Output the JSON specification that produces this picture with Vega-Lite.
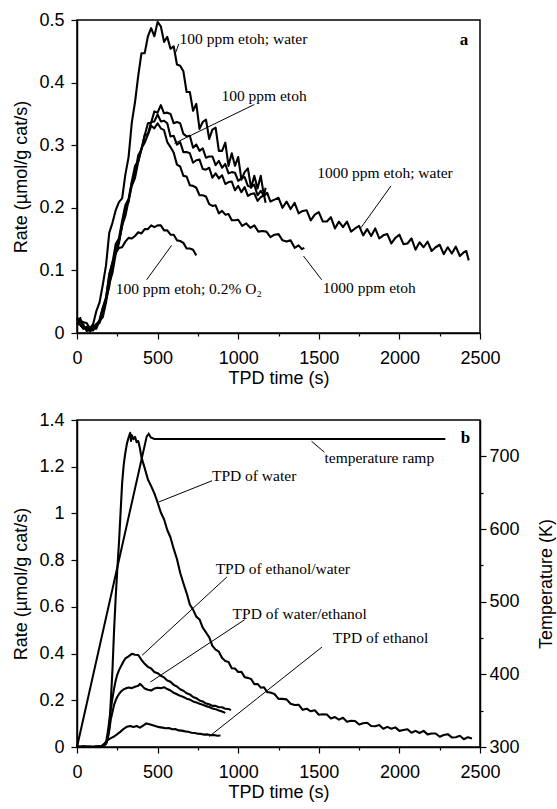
{
  "$schema": "https://vega.github.io/schema/vega-lite/v6.json",
  "padding": {"left": 12, "top": 10, "right": 2, "bottom": 2},
  "background": "white",
  "spacing": 22,
  "config": {
    "view": {"stroke": "black", "strokeWidth": 1.5},
    "axis": {
      "domainColor": "black", "domainWidth": 1.5, "tickColor": "black", "tickWidth": 1.2,
      "labelColor": "black", "titleColor": "black", "labelFont": "Liberation Sans", "titleFont": "Liberation Sans",
      "labelFontSize": 18, "titleFontSize": 18, "titleFontWeight": "normal", "grid": false,
      "labelOverlap": false, "labelFlush": false
    },
    "text": {"font": "Liberation Serif", "fontSize": 15.5, "color": "black"}
  },
  "datasets": {
    "topLines": [
      {"c":"A","t":0,"r":0.024},{"c":"A","t":20,"r":0.020},{"c":"A","t":40,"r":0.017},{"c":"A","t":60,"r":0.016},{"c":"A","t":80,"r":0.007},{"c":"A","t":100,"r":0.014},{"c":"A","t":120,"r":0.035},{"c":"A","t":140,"r":0.049},{"c":"A","t":160,"r":0.077},{"c":"A","t":180,"r":0.108},{"c":"A","t":200,"r":0.16},{"c":"A","t":220,"r":0.176},{"c":"A","t":240,"r":0.196},{"c":"A","t":260,"r":0.209},{"c":"A","t":280,"r":0.215},{"c":"A","t":300,"r":0.253},{"c":"A","t":320,"r":0.281},{"c":"A","t":340,"r":0.336},{"c":"A","t":360,"r":0.369},{"c":"A","t":380,"r":0.411},{"c":"A","t":400,"r":0.447},{"c":"A","t":420,"r":0.447},{"c":"A","t":440,"r":0.474},{"c":"A","t":460,"r":0.487},{"c":"A","t":480,"r":0.474},{"c":"A","t":500,"r":0.497},{"c":"A","t":520,"r":0.49},{"c":"A","t":540,"r":0.465},{"c":"A","t":560,"r":0.473},{"c":"A","t":580,"r":0.454},{"c":"A","t":600,"r":0.458},{"c":"A","t":620,"r":0.429},{"c":"A","t":640,"r":0.427},{"c":"A","t":660,"r":0.418},{"c":"A","t":680,"r":0.385},{"c":"A","t":700,"r":0.385},{"c":"A","t":720,"r":0.355},{"c":"A","t":740,"r":0.366},{"c":"A","t":760,"r":0.326},{"c":"A","t":780,"r":0.337},{"c":"A","t":800,"r":0.341},{"c":"A","t":820,"r":0.31},{"c":"A","t":840,"r":0.325},{"c":"A","t":860,"r":0.328},{"c":"A","t":880,"r":0.291},{"c":"A","t":900,"r":0.291},{"c":"A","t":920,"r":0.304},{"c":"A","t":940,"r":0.267},{"c":"A","t":960,"r":0.287},{"c":"A","t":980,"r":0.267},{"c":"A","t":1000,"r":0.281},{"c":"A","t":1020,"r":0.245},{"c":"A","t":1040,"r":0.257},{"c":"A","t":1060,"r":0.263},{"c":"A","t":1080,"r":0.232},{"c":"A","t":1100,"r":0.251},{"c":"A","t":1120,"r":0.231},{"c":"A","t":1140,"r":0.251},{"c":"A","t":1160,"r":0.219},{"c":"A","t":1170,"r":0.232},
      {"c":"B","t":0,"r":0.014},{"c":"B","t":20,"r":0.024},{"c":"B","t":40,"r":0.007},{"c":"B","t":60,"r":0.010},{"c":"B","t":80,"r":0.005},{"c":"B","t":100,"r":0.013},{"c":"B","t":120,"r":0.009},{"c":"B","t":140,"r":0.021},{"c":"B","t":160,"r":0.040},{"c":"B","t":180,"r":0.054},{"c":"B","t":200,"r":0.094},{"c":"B","t":220,"r":0.112},{"c":"B","t":240,"r":0.142},{"c":"B","t":260,"r":0.151},{"c":"B","t":280,"r":0.179},{"c":"B","t":300,"r":0.204},{"c":"B","t":320,"r":0.214},{"c":"B","t":340,"r":0.242},{"c":"B","t":360,"r":0.267},{"c":"B","t":380,"r":0.274},{"c":"B","t":400,"r":0.294},{"c":"B","t":420,"r":0.316},{"c":"B","t":440,"r":0.318},{"c":"B","t":460,"r":0.337},{"c":"B","t":480,"r":0.338},{"c":"B","t":500,"r":0.349},{"c":"B","t":520,"r":0.338},{"c":"B","t":540,"r":0.339},{"c":"B","t":560,"r":0.335},{"c":"B","t":580,"r":0.314},{"c":"B","t":600,"r":0.315},{"c":"B","t":620,"r":0.301},{"c":"B","t":640,"r":0.305},{"c":"B","t":660,"r":0.289},{"c":"B","t":680,"r":0.289},{"c":"B","t":700,"r":0.287},{"c":"B","t":720,"r":0.272},{"c":"B","t":740,"r":0.276},{"c":"B","t":760,"r":0.277},{"c":"B","t":780,"r":0.262},{"c":"B","t":800,"r":0.261},{"c":"B","t":820,"r":0.264},{"c":"B","t":840,"r":0.248},{"c":"B","t":860,"r":0.255},{"c":"B","t":880,"r":0.247},{"c":"B","t":900,"r":0.252},{"c":"B","t":920,"r":0.238},{"c":"B","t":940,"r":0.241},{"c":"B","t":960,"r":0.242},{"c":"B","t":980,"r":0.228},{"c":"B","t":1000,"r":0.235},{"c":"B","t":1020,"r":0.225},{"c":"B","t":1040,"r":0.233},{"c":"B","t":1060,"r":0.219},{"c":"B","t":1080,"r":0.222},{"c":"B","t":1100,"r":0.223},{"c":"B","t":1120,"r":0.211},{"c":"B","t":1140,"r":0.217},{"c":"B","t":1160,"r":0.22},{"c":"B","t":1170,"r":0.208},
      {"c":"C","t":0,"r":0.022},{"c":"C","t":20,"r":0.018},{"c":"C","t":40,"r":0.013},{"c":"C","t":60,"r":0.003},{"c":"C","t":80,"r":0.007},{"c":"C","t":100,"r":0.004},{"c":"C","t":120,"r":0.014},{"c":"C","t":140,"r":0.016},{"c":"C","t":160,"r":0.031},{"c":"C","t":180,"r":0.054},{"c":"C","t":200,"r":0.074},{"c":"C","t":220,"r":0.107},{"c":"C","t":240,"r":0.135},{"c":"C","t":260,"r":0.147},{"c":"C","t":280,"r":0.171},{"c":"C","t":300,"r":0.201},{"c":"C","t":320,"r":0.209},{"c":"C","t":340,"r":0.24},{"c":"C","t":360,"r":0.256},{"c":"C","t":380,"r":0.284},{"c":"C","t":400,"r":0.293},{"c":"C","t":420,"r":0.316},{"c":"C","t":440,"r":0.335},{"c":"C","t":460,"r":0.336},{"c":"C","t":480,"r":0.354},{"c":"C","t":500,"r":0.352},{"c":"C","t":520,"r":0.364},{"c":"C","t":540,"r":0.351},{"c":"C","t":560,"r":0.352},{"c":"C","t":580,"r":0.35},{"c":"C","t":600,"r":0.335},{"c":"C","t":620,"r":0.337},{"c":"C","t":640,"r":0.335},{"c":"C","t":660,"r":0.318},{"c":"C","t":680,"r":0.314},{"c":"C","t":700,"r":0.315},{"c":"C","t":720,"r":0.296},{"c":"C","t":740,"r":0.301},{"c":"C","t":760,"r":0.291},{"c":"C","t":780,"r":0.295},{"c":"C","t":800,"r":0.28},{"c":"C","t":820,"r":0.282},{"c":"C","t":840,"r":0.282},{"c":"C","t":860,"r":0.268},{"c":"C","t":880,"r":0.275},{"c":"C","t":900,"r":0.264},{"c":"C","t":920,"r":0.27},{"c":"C","t":940,"r":0.255},{"c":"C","t":960,"r":0.257},{"c":"C","t":980,"r":0.256},{"c":"C","t":1000,"r":0.243},{"c":"C","t":1020,"r":0.247},{"c":"C","t":1040,"r":0.249},{"c":"C","t":1060,"r":0.235},{"c":"C","t":1080,"r":0.233},{"c":"C","t":1100,"r":0.237},{"c":"C","t":1120,"r":0.22},{"c":"C","t":1140,"r":0.227},{"c":"C","t":1160,"r":0.219},{"c":"C","t":1180,"r":0.224},{"c":"C","t":1200,"r":0.21},{"c":"C","t":1225,"r":0.213},{"c":"C","t":1250,"r":0.216},{"c":"C","t":1275,"r":0.2},{"c":"C","t":1300,"r":0.21},{"c":"C","t":1325,"r":0.198},{"c":"C","t":1350,"r":0.208},{"c":"C","t":1375,"r":0.191},{"c":"C","t":1400,"r":0.195},{"c":"C","t":1425,"r":0.196},{"c":"C","t":1450,"r":0.18},{"c":"C","t":1475,"r":0.189},{"c":"C","t":1500,"r":0.193},{"c":"C","t":1525,"r":0.178},{"c":"C","t":1550,"r":0.178},{"c":"C","t":1575,"r":0.185},{"c":"C","t":1600,"r":0.167},{"c":"C","t":1625,"r":0.178},{"c":"C","t":1650,"r":0.169},{"c":"C","t":1675,"r":0.178},{"c":"C","t":1700,"r":0.162},{"c":"C","t":1725,"r":0.167},{"c":"C","t":1750,"r":0.171},{"c":"C","t":1775,"r":0.156},{"c":"C","t":1800,"r":0.166},{"c":"C","t":1825,"r":0.155},{"c":"C","t":1850,"r":0.167},{"c":"C","t":1875,"r":0.151},{"c":"C","t":1900,"r":0.156},{"c":"C","t":1925,"r":0.158},{"c":"C","t":1950,"r":0.143},{"c":"C","t":1975,"r":0.152},{"c":"C","t":2000,"r":0.157},{"c":"C","t":2025,"r":0.142},{"c":"C","t":2050,"r":0.143},{"c":"C","t":2075,"r":0.151},{"c":"C","t":2100,"r":0.133},{"c":"C","t":2125,"r":0.145},{"c":"C","t":2150,"r":0.137},{"c":"C","t":2175,"r":0.146},{"c":"C","t":2200,"r":0.131},{"c":"C","t":2225,"r":0.137},{"c":"C","t":2250,"r":0.141},{"c":"C","t":2275,"r":0.126},{"c":"C","t":2300,"r":0.137},{"c":"C","t":2325,"r":0.127},{"c":"C","t":2350,"r":0.138},{"c":"C","t":2375,"r":0.123},{"c":"C","t":2400,"r":0.129},{"c":"C","t":2415,"r":0.131},{"c":"C","t":2430,"r":0.116},
      {"c":"D","t":0,"r":0.025},{"c":"D","t":20,"r":0.013},{"c":"D","t":40,"r":0.007},{"c":"D","t":60,"r":0.009},{"c":"D","t":80,"r":0.002},{"c":"D","t":100,"r":0.007},{"c":"D","t":120,"r":0.007},{"c":"D","t":140,"r":0.02},{"c":"D","t":160,"r":0.025},{"c":"D","t":180,"r":0.049},{"c":"D","t":200,"r":0.079},{"c":"D","t":220,"r":0.096},{"c":"D","t":240,"r":0.126},{"c":"D","t":260,"r":0.143},{"c":"D","t":280,"r":0.172},{"c":"D","t":300,"r":0.187},{"c":"D","t":320,"r":0.212},{"c":"D","t":340,"r":0.235},{"c":"D","t":360,"r":0.248},{"c":"D","t":380,"r":0.274},{"c":"D","t":400,"r":0.295},{"c":"D","t":420,"r":0.304},{"c":"D","t":440,"r":0.317},{"c":"D","t":460,"r":0.331},{"c":"D","t":480,"r":0.327},{"c":"D","t":500,"r":0.335},{"c":"D","t":520,"r":0.327},{"c":"D","t":540,"r":0.324},{"c":"D","t":560,"r":0.305},{"c":"D","t":580,"r":0.297},{"c":"D","t":600,"r":0.288},{"c":"D","t":620,"r":0.269},{"c":"D","t":640,"r":0.266},{"c":"D","t":660,"r":0.251},{"c":"D","t":680,"r":0.25},{"c":"D","t":700,"r":0.236},{"c":"D","t":720,"r":0.235},{"c":"D","t":740,"r":0.232},{"c":"D","t":760,"r":0.22},{"c":"D","t":780,"r":0.22},{"c":"D","t":800,"r":0.218},{"c":"D","t":820,"r":0.206},{"c":"D","t":840,"r":0.203},{"c":"D","t":860,"r":0.204},{"c":"D","t":880,"r":0.191},{"c":"D","t":900,"r":0.195},{"c":"D","t":920,"r":0.189},{"c":"D","t":940,"r":0.19},{"c":"D","t":960,"r":0.18},{"c":"D","t":980,"r":0.18},{"c":"D","t":1000,"r":0.181},{"c":"D","t":1025,"r":0.171},{"c":"D","t":1050,"r":0.175},{"c":"D","t":1075,"r":0.168},{"c":"D","t":1100,"r":0.172},{"c":"D","t":1125,"r":0.162},{"c":"D","t":1150,"r":0.163},{"c":"D","t":1175,"r":0.162},{"c":"D","t":1200,"r":0.153},{"c":"D","t":1225,"r":0.157},{"c":"D","t":1250,"r":0.158},{"c":"D","t":1275,"r":0.148},{"c":"D","t":1300,"r":0.146},{"c":"D","t":1325,"r":0.148},{"c":"D","t":1350,"r":0.136},{"c":"D","t":1375,"r":0.14},{"c":"D","t":1395,"r":0.134},{"c":"D","t":1410,"r":0.136},
      {"c":"E","t":0,"r":0.015},{"c":"E","t":20,"r":0.013},{"c":"E","t":40,"r":0.007},{"c":"E","t":60,"r":0.009},{"c":"E","t":80,"r":0.004},{"c":"E","t":100,"r":0.008},{"c":"E","t":120,"r":0.014},{"c":"E","t":140,"r":0.02},{"c":"E","t":160,"r":0.04},{"c":"E","t":180,"r":0.057},{"c":"E","t":200,"r":0.091},{"c":"E","t":220,"r":0.113},{"c":"E","t":240,"r":0.128},{"c":"E","t":260,"r":0.136},{"c":"E","t":280,"r":0.137},{"c":"E","t":300,"r":0.146},{"c":"E","t":320,"r":0.152},{"c":"E","t":340,"r":0.151},{"c":"E","t":360,"r":0.155},{"c":"E","t":380,"r":0.161},{"c":"E","t":400,"r":0.159},{"c":"E","t":420,"r":0.166},{"c":"E","t":440,"r":0.166},{"c":"E","t":460,"r":0.172},{"c":"E","t":480,"r":0.169},{"c":"E","t":500,"r":0.172},{"c":"E","t":520,"r":0.172},{"c":"E","t":540,"r":0.164},{"c":"E","t":560,"r":0.164},{"c":"E","t":580,"r":0.157},{"c":"E","t":600,"r":0.157},{"c":"E","t":620,"r":0.148},{"c":"E","t":640,"r":0.147},{"c":"E","t":660,"r":0.144},{"c":"E","t":680,"r":0.135},{"c":"E","t":700,"r":0.135},{"c":"E","t":720,"r":0.133},{"c":"E","t":740,"r":0.124}
    ],
    "topNotes": [
      {"t":636,"r":0.47,"label":"100 ppm etoh; water"},
      {"t":896,"r":0.379,"label":"100 ppm etoh"},
      {"t":1490,"r":0.256,"label":"1000 ppm etoh; water"},
      {"t":1525,"r":0.072,"label":"1000 ppm etoh"},
      {"t":240,"r":0.07,"label":"100 ppm etoh; 0.2% O₂"}
    ],
    "topLeaders": [
      {"t":612,"r":0.448,"t2":632,"r2":0.462},
      {"t":1100,"r":0.365,"t2":605,"r2":0.303},
      {"t":1948,"r":0.235,"t2":1761,"r2":0.168},
      {"t":1518,"r":0.085,"t2":1405,"r2":0.123},
      {"t":432,"r":0.085,"t2":587,"r2":0.14}
    ],
    "topLetter": [{"t":2400,"r":0.468,"label":"a"}],
    "bottomLines": [
      {"c":"W","t":0,"r":0.004},{"c":"W","t":20,"r":0},{"c":"W","t":40,"r":0.003},{"c":"W","t":60,"r":0.001},{"c":"W","t":80,"r":0.002},{"c":"W","t":100,"r":0},{"c":"W","t":120,"r":0.003},{"c":"W","t":140,"r":0.001},{"c":"W","t":160,"r":0.004},{"c":"W","t":180,"r":0.012},{"c":"W","t":190,"r":0.035},{"c":"W","t":200,"r":0.08},{"c":"W","t":210,"r":0.2},{"c":"W","t":220,"r":0.33},{"c":"W","t":230,"r":0.5},{"c":"W","t":240,"r":0.64},{"c":"W","t":250,"r":0.76},{"c":"W","t":260,"r":0.87},{"c":"W","t":270,"r":1.0},{"c":"W","t":280,"r":1.13},{"c":"W","t":290,"r":1.21},{"c":"W","t":300,"r":1.26},{"c":"W","t":310,"r":1.3},{"c":"W","t":320,"r":1.325},{"c":"W","t":330,"r":1.345},{"c":"W","t":335,"r":1.31},{"c":"W","t":340,"r":1.335},{"c":"W","t":350,"r":1.318},{"c":"W","t":360,"r":1.328},{"c":"W","t":370,"r":1.305},{"c":"W","t":380,"r":1.31},{"c":"W","t":390,"r":1.28},{"c":"W","t":400,"r":1.24},{"c":"W","t":420,"r":1.194},{"c":"W","t":440,"r":1.145},{"c":"W","t":460,"r":1.117},{"c":"W","t":480,"r":1.086},{"c":"W","t":500,"r":1.047},{"c":"W","t":520,"r":1.004},{"c":"W","t":540,"r":0.975},{"c":"W","t":560,"r":0.929},{"c":"W","t":580,"r":0.897},{"c":"W","t":600,"r":0.848},{"c":"W","t":620,"r":0.805},{"c":"W","t":640,"r":0.746},{"c":"W","t":660,"r":0.701},{"c":"W","t":680,"r":0.659},{"c":"W","t":700,"r":0.61},{"c":"W","t":720,"r":0.588},{"c":"W","t":740,"r":0.558},{"c":"W","t":760,"r":0.546},{"c":"W","t":780,"r":0.511},{"c":"W","t":800,"r":0.491},{"c":"W","t":820,"r":0.47},{"c":"W","t":840,"r":0.433},{"c":"W","t":860,"r":0.417},{"c":"W","t":880,"r":0.408},{"c":"W","t":900,"r":0.381},{"c":"W","t":920,"r":0.368},{"c":"W","t":940,"r":0.364},{"c":"W","t":960,"r":0.337},{"c":"W","t":980,"r":0.336},{"c":"W","t":1000,"r":0.321},{"c":"W","t":1020,"r":0.322},{"c":"W","t":1040,"r":0.299},{"c":"W","t":1060,"r":0.296},{"c":"W","t":1080,"r":0.291},{"c":"W","t":1100,"r":0.269},{"c":"W","t":1120,"r":0.27},{"c":"W","t":1140,"r":0.254},{"c":"W","t":1160,"r":0.256},{"c":"W","t":1180,"r":0.235},{"c":"W","t":1200,"r":0.233},{"c":"W","t":1225,"r":0.227},{"c":"W","t":1250,"r":0.206},{"c":"W","t":1275,"r":0.206},{"c":"W","t":1300,"r":0.204},{"c":"W","t":1325,"r":0.185},{"c":"W","t":1350,"r":0.18},{"c":"W","t":1375,"r":0.181},{"c":"W","t":1400,"r":0.159},{"c":"W","t":1425,"r":0.164},{"c":"W","t":1450,"r":0.153},{"c":"W","t":1475,"r":0.157},{"c":"W","t":1500,"r":0.138},{"c":"W","t":1525,"r":0.14},{"c":"W","t":1550,"r":0.139},{"c":"W","t":1575,"r":0.122},{"c":"W","t":1600,"r":0.128},{"c":"W","t":1625,"r":0.117},{"c":"W","t":1650,"r":0.125},{"c":"W","t":1675,"r":0.108},{"c":"W","t":1700,"r":0.112},{"c":"W","t":1725,"r":0.111},{"c":"W","t":1750,"r":0.096},{"c":"W","t":1775,"r":0.102},{"c":"W","t":1800,"r":0.104},{"c":"W","t":1825,"r":0.09},{"c":"W","t":1850,"r":0.089},{"c":"W","t":1875,"r":0.094},{"c":"W","t":1900,"r":0.078},{"c":"W","t":1925,"r":0.086},{"c":"W","t":1950,"r":0.078},{"c":"W","t":1975,"r":0.084},{"c":"W","t":2000,"r":0.069},{"c":"W","t":2025,"r":0.073},{"c":"W","t":2050,"r":0.076},{"c":"W","t":2075,"r":0.061},{"c":"W","t":2100,"r":0.069},{"c":"W","t":2125,"r":0.06},{"c":"W","t":2150,"r":0.069},{"c":"W","t":2175,"r":0.054},{"c":"W","t":2200,"r":0.058},{"c":"W","t":2225,"r":0.058},{"c":"W","t":2250,"r":0.044},{"c":"W","t":2275,"r":0.051},{"c":"W","t":2300,"r":0.055},{"c":"W","t":2325,"r":0.041},{"c":"W","t":2350,"r":0.042},{"c":"W","t":2375,"r":0.048},{"c":"W","t":2400,"r":0.033},{"c":"W","t":2425,"r":0.042},{"c":"W","t":2450,"r":0.036},
      {"c":"EW","t":0,"r":0.002},{"c":"EW","t":40,"r":0},{"c":"EW","t":80,"r":0.002},{"c":"EW","t":120,"r":0},{"c":"EW","t":160,"r":0.003},{"c":"EW","t":180,"r":0.02},{"c":"EW","t":190,"r":0.06},{"c":"EW","t":200,"r":0.11},{"c":"EW","t":210,"r":0.16},{"c":"EW","t":220,"r":0.21},{"c":"EW","t":230,"r":0.25},{"c":"EW","t":240,"r":0.285},{"c":"EW","t":250,"r":0.31},{"c":"EW","t":260,"r":0.328},{"c":"EW","t":270,"r":0.342},{"c":"EW","t":280,"r":0.355},{"c":"EW","t":290,"r":0.368},{"c":"EW","t":300,"r":0.379},{"c":"EW","t":320,"r":0.388},{"c":"EW","t":340,"r":0.399},{"c":"EW","t":360,"r":0.395},{"c":"EW","t":380,"r":0.394},{"c":"EW","t":400,"r":0.373},{"c":"EW","t":420,"r":0.356},{"c":"EW","t":440,"r":0.343},{"c":"EW","t":460,"r":0.336},{"c":"EW","t":480,"r":0.321},{"c":"EW","t":500,"r":0.316},{"c":"EW","t":520,"r":0.305},{"c":"EW","t":540,"r":0.298},{"c":"EW","t":560,"r":0.285},{"c":"EW","t":580,"r":0.279},{"c":"EW","t":600,"r":0.266},{"c":"EW","t":620,"r":0.259},{"c":"EW","t":640,"r":0.247},{"c":"EW","t":660,"r":0.241},{"c":"EW","t":680,"r":0.23},{"c":"EW","t":700,"r":0.225},{"c":"EW","t":720,"r":0.214},{"c":"EW","t":740,"r":0.209},{"c":"EW","t":760,"r":0.199},{"c":"EW","t":780,"r":0.195},{"c":"EW","t":800,"r":0.186},{"c":"EW","t":820,"r":0.183},{"c":"EW","t":840,"r":0.176},{"c":"EW","t":860,"r":0.176},{"c":"EW","t":880,"r":0.17},{"c":"EW","t":900,"r":0.17},{"c":"EW","t":920,"r":0.164},{"c":"EW","t":940,"r":0.163},{"c":"EW","t":955,"r":0.158},
      {"c":"WE","t":0,"r":0},{"c":"WE","t":40,"r":0.002},{"c":"WE","t":80,"r":0},{"c":"WE","t":120,"r":0.002},{"c":"WE","t":160,"r":0.003},{"c":"WE","t":180,"r":0.015},{"c":"WE","t":190,"r":0.035},{"c":"WE","t":200,"r":0.07},{"c":"WE","t":210,"r":0.12},{"c":"WE","t":220,"r":0.15},{"c":"WE","t":230,"r":0.18},{"c":"WE","t":240,"r":0.2},{"c":"WE","t":250,"r":0.215},{"c":"WE","t":260,"r":0.226},{"c":"WE","t":270,"r":0.235},{"c":"WE","t":280,"r":0.242},{"c":"WE","t":290,"r":0.247},{"c":"WE","t":300,"r":0.25},{"c":"WE","t":320,"r":0.255},{"c":"WE","t":340,"r":0.252},{"c":"WE","t":360,"r":0.258},{"c":"WE","t":380,"r":0.262},{"c":"WE","t":390,"r":0.27},{"c":"WE","t":400,"r":0.265},{"c":"WE","t":420,"r":0.25},{"c":"WE","t":440,"r":0.245},{"c":"WE","t":460,"r":0.242},{"c":"WE","t":480,"r":0.25},{"c":"WE","t":500,"r":0.254},{"c":"WE","t":520,"r":0.252},{"c":"WE","t":540,"r":0.256},{"c":"WE","t":560,"r":0.248},{"c":"WE","t":580,"r":0.242},{"c":"WE","t":600,"r":0.232},{"c":"WE","t":620,"r":0.226},{"c":"WE","t":640,"r":0.219},{"c":"WE","t":660,"r":0.214},{"c":"WE","t":680,"r":0.207},{"c":"WE","t":700,"r":0.203},{"c":"WE","t":720,"r":0.195},{"c":"WE","t":740,"r":0.191},{"c":"WE","t":760,"r":0.185},{"c":"WE","t":780,"r":0.181},{"c":"WE","t":800,"r":0.175},{"c":"WE","t":820,"r":0.171},{"c":"WE","t":840,"r":0.165},{"c":"WE","t":860,"r":0.162},{"c":"WE","t":880,"r":0.156},{"c":"WE","t":900,"r":0.152},{"c":"WE","t":920,"r":0.146},
      {"c":"ET","t":0,"r":0},{"c":"ET","t":40,"r":0.002},{"c":"ET","t":80,"r":0},{"c":"ET","t":120,"r":0.001},{"c":"ET","t":150,"r":0.003},{"c":"ET","t":170,"r":0.015},{"c":"ET","t":190,"r":0.03},{"c":"ET","t":210,"r":0.038},{"c":"ET","t":230,"r":0.045},{"c":"ET","t":250,"r":0.055},{"c":"ET","t":270,"r":0.066},{"c":"ET","t":290,"r":0.078},{"c":"ET","t":310,"r":0.087},{"c":"ET","t":330,"r":0.09},{"c":"ET","t":350,"r":0.086},{"c":"ET","t":370,"r":0.09},{"c":"ET","t":390,"r":0.083},{"c":"ET","t":410,"r":0.092},{"c":"ET","t":430,"r":0.101},{"c":"ET","t":450,"r":0.097},{"c":"ET","t":470,"r":0.093},{"c":"ET","t":490,"r":0.089},{"c":"ET","t":510,"r":0.085},{"c":"ET","t":530,"r":0.083},{"c":"ET","t":550,"r":0.08},{"c":"ET","t":570,"r":0.081},{"c":"ET","t":590,"r":0.076},{"c":"ET","t":610,"r":0.077},{"c":"ET","t":630,"r":0.071},{"c":"ET","t":650,"r":0.07},{"c":"ET","t":670,"r":0.067},{"c":"ET","t":690,"r":0.065},{"c":"ET","t":710,"r":0.061},{"c":"ET","t":730,"r":0.06},{"c":"ET","t":750,"r":0.057},{"c":"ET","t":770,"r":0.056},{"c":"ET","t":790,"r":0.053},{"c":"ET","t":810,"r":0.054},{"c":"ET","t":830,"r":0.05},{"c":"ET","t":850,"r":0.051},{"c":"ET","t":870,"r":0.048},{"c":"ET","t":890,"r":0.049}
    ],
    "temperature": [
      {"t":0,"T":300},{"t":432,"T":727},{"t":445,"T":731},{"t":458,"T":726},{"t":480,"T":724},{"t":2285,"T":724}
    ],
    "bottomNotes": [
      {"t":1535,"r":1.238,"label":"temperature ramp"},
      {"t":837,"r":1.16,"label":"TPD of water"},
      {"t":860,"r":0.764,"label":"TPD of ethanol/water"},
      {"t":965,"r":0.57,"label":"TPD of water/ethanol"},
      {"t":1587,"r":0.465,"label":"TPD of ethanol"}
    ],
    "bottomLeaders": [
      {"t":1455,"r":1.309,"t2":1535,"r2":1.262},
      {"t":838,"r":1.14,"t2":508,"r2":1.049},
      {"t":930,"r":0.728,"t2":403,"r2":0.392},
      {"t":1040,"r":0.545,"t2":455,"r2":0.278},
      {"t":1520,"r":0.428,"t2":820,"r2":0.045}
    ],
    "bottomLetter": [{"t":2410,"r":1.323,"label":"b"}]
  },
  "vconcat": [
    {
      "width": 403,
      "height": 313,
      "layer": [
        {
          "data": {"name": "topLines"},
          "mark": {"type": "line", "color": "black", "strokeWidth": 2.1, "strokeJoin": "round"},
          "encoding": {
            "x": {"field": "t", "type": "quantitative", "scale": {"domain": [0, 2500], "nice": false},
              "axis": {"title": "TPD time (s)", "values": [0,250,500,750,1000,1250,1500,1750,2000,2250,2500],
                "labelExpr": "datum.value % 500 === 0 ? format(datum.value, 'd') : ''",
                "tickSize": {"condition": {"test": "datum.value % 500 === 0", "value": 6}, "value": 3},
                "labelPadding": 10, "titlePadding": 2}},
            "y": {"field": "r", "type": "quantitative", "scale": {"domain": [0, 0.5], "nice": false},
              "axis": {"title": "Rate (µmol/g cat/s)", "values": [0,0.05,0.1,0.15,0.2,0.25,0.3,0.35,0.4,0.45,0.5],
                "labelExpr": "round(datum.value*100) % 10 === 0 ? format(datum.value, '~g') : ''",
                "tickSize": {"condition": {"test": "round(datum.value*100) % 10 === 0", "value": 6}, "value": 3},
                "labelPadding": 7, "titlePadding": 8}},
            "detail": {"field": "c"}
          }
        },
        {
          "data": {"name": "topLeaders"},
          "mark": {"type": "rule", "color": "black", "strokeWidth": 1},
          "encoding": {
            "x": {"field": "t", "type": "quantitative"},
            "y": {"field": "r", "type": "quantitative"},
            "x2": {"field": "t2"},
            "y2": {"field": "r2"}
          }
        },
        {
          "data": {"name": "topNotes"},
          "mark": {"type": "text", "align": "left", "baseline": "middle"},
          "encoding": {
            "x": {"field": "t", "type": "quantitative"},
            "y": {"field": "r", "type": "quantitative"},
            "text": {"field": "label"}
          }
        },
        {
          "data": {"name": "topLetter"},
          "mark": {"type": "text", "align": "center", "baseline": "middle", "fontSize": 17, "fontWeight": "bold"},
          "encoding": {
            "x": {"field": "t", "type": "quantitative"},
            "y": {"field": "r", "type": "quantitative"},
            "text": {"field": "label"}
          }
        }
      ]
    },
    {
      "width": 403,
      "height": 327,
      "layer": [
        {
          "layer": [
            {
              "data": {"name": "bottomLines"},
              "mark": {"type": "line", "color": "black", "strokeWidth": 2.1, "strokeJoin": "round"},
              "encoding": {
                "x": {"field": "t", "type": "quantitative", "scale": {"domain": [0, 2500], "nice": false},
                  "axis": {"title": "TPD time (s)", "values": [0,250,500,750,1000,1250,1500,1750,2000,2250,2500],
                    "labelExpr": "datum.value % 500 === 0 ? format(datum.value, 'd') : ''",
                    "tickSize": {"condition": {"test": "datum.value % 500 === 0", "value": 6}, "value": 3},
                    "labelPadding": 10, "titlePadding": 2}},
                "y": {"field": "r", "type": "quantitative", "scale": {"domain": [0, 1.4], "nice": false},
                  "axis": {"title": "Rate (µmol/g cat/s)", "values": [0,0.1,0.2,0.3,0.4,0.5,0.6,0.7,0.8,0.9,1,1.1,1.2,1.3,1.4],
                    "labelExpr": "round(datum.value*10) % 2 === 0 ? format(datum.value, '~g') : ''",
                    "tickSize": {"condition": {"test": "round(datum.value*10) % 2 === 0", "value": 6}, "value": 3},
                    "labelPadding": 7, "titlePadding": 8}},
                "detail": {"field": "c"}
              }
            },
            {
              "data": {"name": "bottomLeaders"},
              "mark": {"type": "rule", "color": "black", "strokeWidth": 1},
              "encoding": {
                "x": {"field": "t", "type": "quantitative"},
                "y": {"field": "r", "type": "quantitative"},
                "x2": {"field": "t2"},
                "y2": {"field": "r2"}
              }
            },
            {
              "data": {"name": "bottomNotes"},
              "mark": {"type": "text", "align": "left", "baseline": "middle"},
              "encoding": {
                "x": {"field": "t", "type": "quantitative"},
                "y": {"field": "r", "type": "quantitative"},
                "text": {"field": "label"}
              }
            },
            {
              "data": {"name": "bottomLetter"},
              "mark": {"type": "text", "align": "center", "baseline": "middle", "fontSize": 17, "fontWeight": "bold"},
              "encoding": {
                "x": {"field": "t", "type": "quantitative"},
                "y": {"field": "r", "type": "quantitative"},
                "text": {"field": "label"}
              }
            }
          ]
        },
        {
          "data": {"name": "temperature"},
          "mark": {"type": "line", "color": "black", "strokeWidth": 2},
          "encoding": {
            "x": {"field": "t", "type": "quantitative"},
            "y": {"field": "T", "type": "quantitative", "scale": {"domain": [300, 750], "nice": false},
              "axis": {"orient": "right", "title": "Temperature (K)", "titleAngle": 270, "values": [300,350,400,450,500,550,600,650,700],
                "labelExpr": "datum.value % 100 === 0 ? datum.label : ''",
                "tickSize": {"condition": {"test": "datum.value % 100 === 0", "value": 6}, "value": 3},
                "labelPadding": 3, "titlePadding": 36}}
          }
        }
      ],
      "resolve": {"scale": {"y": "independent"}, "axis": {"y": "independent"}}
    }
  ]
}
